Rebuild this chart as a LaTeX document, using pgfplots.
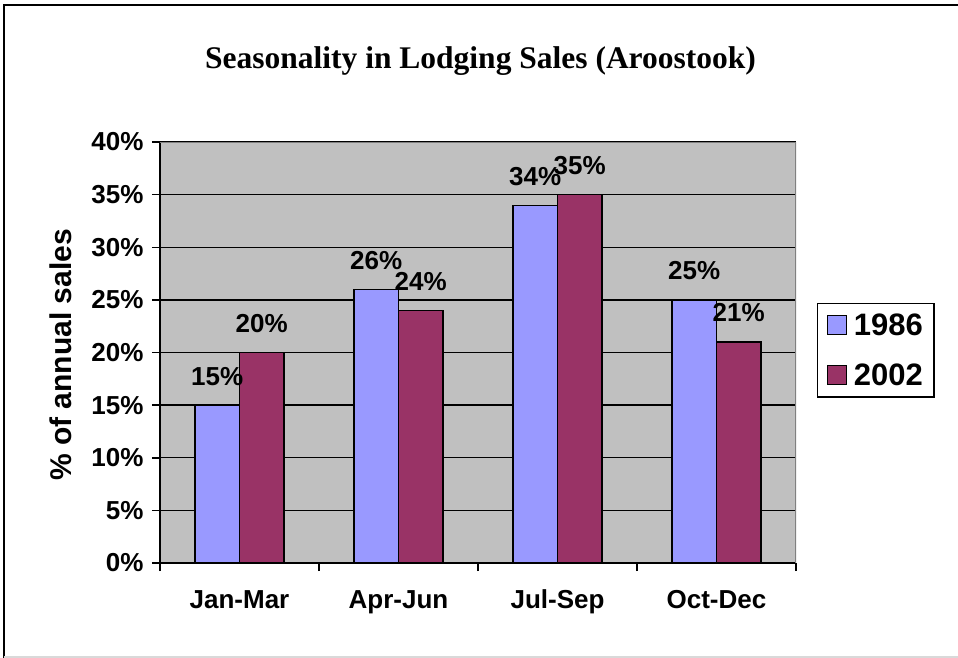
\documentclass[border=0pt]{standalone}
\usepackage{pgfplots}
\pgfplotsset{compat=1.18}
\usepackage{fontspec}
\setmainfont{Liberation Sans}
\newfontfamily\titlefont{Liberation Serif}
\definecolor{bgc}{HTML}{C0C0C0}
\definecolor{bordc}{HTML}{808080}
\definecolor{cA}{HTML}{9999FF}
\definecolor{cB}{HTML}{993366}
\newcommand{\fsz}{\fontsize{26pt}{30pt}\selectfont\bfseries}
\newcommand{\lsz}{\fontsize{31pt}{35pt}\selectfont\bfseries}
\begin{document}
\begin{tikzpicture}
\useasboundingbox (0pt,0pt) rectangle (958pt,-658pt);
\draw[line width=2pt] (4pt,-660pt) -- (4pt,-5pt) -- (962pt,-5pt);
\draw[black!15, line width=1.5pt] (4pt,-657pt) -- (962pt,-657pt);
\begin{axis}[
  at={(160pt,-563pt)}, anchor=south west,
  scale only axis, width=636pt, height=421pt,
  xmin=-0.5, xmax=3.5, ymin=0, ymax=40,
  axis lines*=left,
  axis line style={line width=1.6pt, black},
  axis background/.style={fill=bgc},
  ymajorgrids, grid style={black, line width=1.3pt},
  tick align=outside,
  major tick length=8pt,
  tick style={black, line width=1.5pt},
  /pgf/number format/assume math mode=true,
  ytick={0,5,...,40},
  yticklabel={\pgfmathprintnumber{\tick}\%},
  yticklabel style={font=\fsz, xshift=-5pt},
  xtick={-0.5,0.5,1.5,2.5,3.5},
  xticklabels={},
  extra x ticks={0,1,2,3},
  extra x tick labels={Jan-Mar,Apr-Jun,Jul-Sep,Oct-Dec},
  extra x tick style={major tick length=0pt, xticklabel style={font=\fsz, text height=19pt, text depth=5pt, yshift=-23pt}},
  ybar=0pt, bar width=44.5pt,
  nodes near coords={\pgfmathprintnumber{\pgfplotspointmeta}\%},
  every node near coord/.append style={font=\fsz, black, anchor=base, yshift=20pt},
  title={Seasonality in Lodging Sales (Aroostook)},
  title style={font=\fontsize{31.5pt}{36pt}\selectfont\titlefont\bfseries, at={(rel axis cs:0.504,1.1615)}, anchor=base},
  ylabel={\% of annual sales},
  ylabel style={font=\fontsize{30pt}{34pt}\selectfont\bfseries, at={(rel axis cs:-0.1557,0.494)}, anchor=center},
  legend style={at={(rel axis cs:1.033,0.6176)}, anchor=north west, draw=black, line width=1.3pt, font=\lsz, inner xsep=9pt, inner ysep=8pt, row sep=23pt},
  legend cell align=left,
  legend image code/.code={\draw[#1, draw=black, line width=1.3pt] (0pt,-9pt) rectangle (19pt,10pt); \path (24pt,0pt);},
]
\addplot[fill=cA, draw=black, line width=1.3pt] coordinates {(0,15) (1,26) (2,34) (3,25)};
\addplot[fill=cB, draw=black, line width=1.3pt] coordinates {(0,20) (1,24) (2,35) (3,21)};
\legend{1986,2002}
\draw[bordc, line width=2.5pt] (rel axis cs:0,1) -- (rel axis cs:1,1) -- (rel axis cs:1,0);
\end{axis}
\end{tikzpicture}
\end{document}
